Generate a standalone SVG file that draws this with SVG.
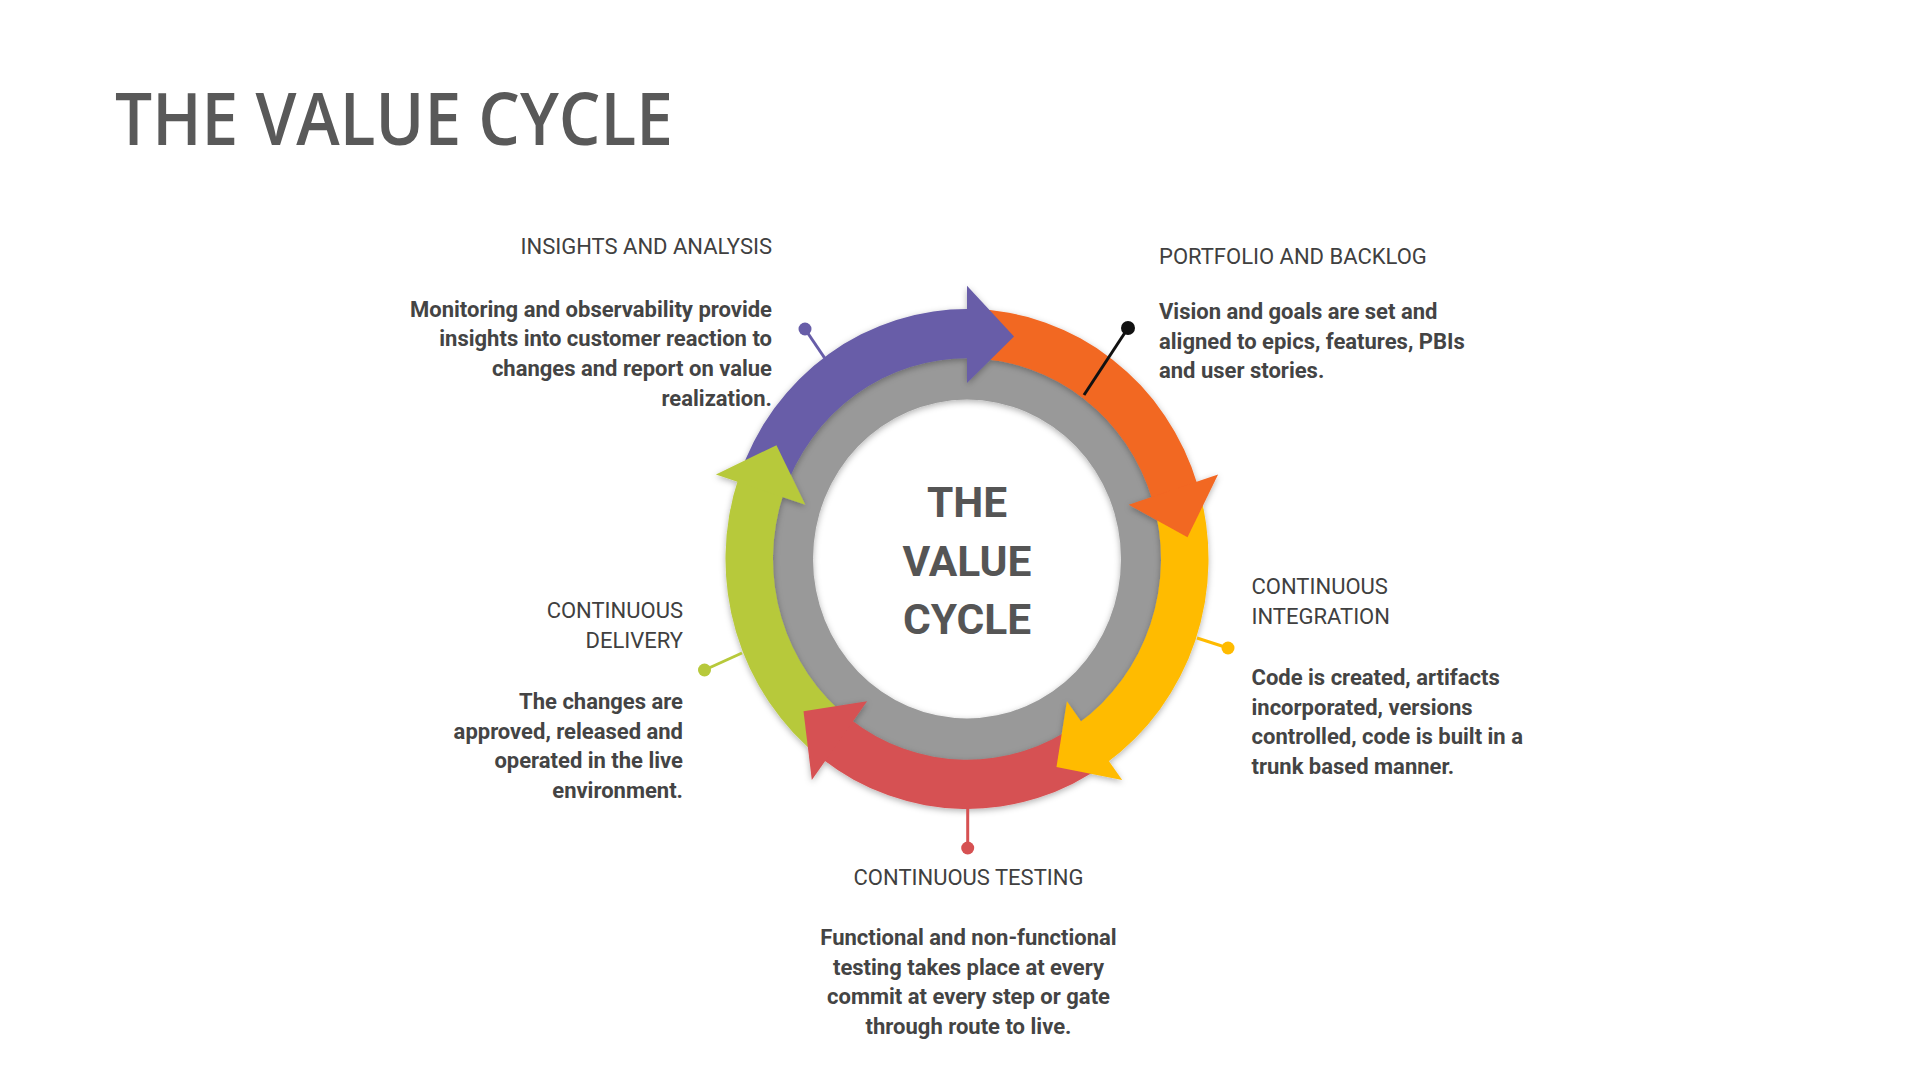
<svg xmlns="http://www.w3.org/2000/svg" width="1920" height="1080" viewBox="0 0 1920 1080">
<defs>
<style>
.title{font-family:"Open Sans","Noto Sans","Liberation Sans",sans-serif;font-weight:600;font-size:72px;fill:#595959}
.center{font-family:Roboto,"Liberation Sans",sans-serif;font-weight:700;font-size:42.5px;fill:#555555;text-anchor:middle}
.lbl{font-family:Roboto,"Liberation Sans",sans-serif;font-size:22px;fill:#404040}
.body{font-family:Roboto,"Liberation Sans",sans-serif;font-weight:700;font-size:22px;fill:#444444}
.end{text-anchor:end}
.mid{text-anchor:middle}
.pin{stroke-width:3;fill:none}
</style>
<filter id="sh" x="-20%" y="-20%" width="140%" height="140%">
<feDropShadow dx="0" dy="2" stdDeviation="3" flood-color="#000" flood-opacity="0.3"/>
</filter>
</defs>
<rect width="1920" height="1080" fill="#ffffff"/>
<text class="title" x="115" y="145" textLength="558" lengthAdjust="spacingAndGlyphs">THE VALUE CYCLE</text>

<g id="cycle" transform="translate(967 559) scale(1 1.035)">
<path id="ring" d="M0 -197 A197 197 0 1 1 0 197 A197 197 0 1 1 0 -197 Z M0 -154 A154 154 0 1 0 0 154 A154 154 0 1 0 0 -154 Z" fill="#999999" fill-rule="evenodd" filter="url(#sh)"/>
<g filter="url(#sh)">
<path fill="#F26724" d="M4.215 -241.463 A241.5 241.5 0 0 1 230.948 -70.608 L185.523 -56.720 A194 194 0 0 0 3.386 -193.970 Z"/>
<path fill="#FFBB00" d="M230.948 -70.608 A241.5 241.5 0 0 1 138.519 197.825 L111.274 158.915 A194 194 0 0 0 185.523 -56.720 Z"/>
<path fill="#D65152" d="M138.519 197.825 A241.5 241.5 0 0 1 -145.338 192.871 L-116.752 154.935 A194 194 0 0 0 111.274 158.915 Z"/>
<path fill="#B7C93B" d="M-145.338 192.871 A241.5 241.5 0 0 1 -228.343 -78.625 L-183.431 -63.160 A194 194 0 0 0 -116.752 154.935 Z"/>
<path fill="#675DA8" d="M-228.343 -78.625 A241.5 241.5 0 0 1 4.215 -241.463 L3.386 -193.970 A194 194 0 0 0 -183.431 -63.160 Z"/>
<polygon fill="#675DA8" points="0,-264 47,-215 0,-170"/>
<polygon fill="#F26724" points="251.079,-81.580 220.5,-21 161.680,-52.533"/>
<polygon fill="#FFBB00" points="155.175,213.580 89.482,200.980 99.923,137.533"/>
<polygon fill="#D65152" points="-155.175,213.580 -163.492,147.209 -99.923,137.533"/>
<polygon fill="#B7C93B" points="-251.079,-81.580 -190.526,-110 -161.680,-52.533"/>
</g>
</g>

<g id="center-label">
<text class="center" x="967" y="516.5">THE</text>
<text class="center" x="967" y="575.5">VALUE</text>
<text class="center" x="967" y="634">CYCLE</text>
</g>

<g id="connectors">
<line class="pin" x1="826" y1="360" x2="805" y2="329" stroke="#675DA8"/>
<circle cx="805" cy="329" r="6.5" fill="#675DA8"/>
<line class="pin" x1="1084" y1="395" x2="1128" y2="328" stroke="#111111" stroke-width="3.5"/>
<circle cx="1128" cy="328" r="7" fill="#111111"/>
<line class="pin" x1="1197" y1="638" x2="1228" y2="648" stroke="#FFBB00"/>
<circle cx="1228" cy="648" r="6.5" fill="#FFBB00"/>
<line class="pin" x1="967.7" y1="806" x2="967.7" y2="848" stroke="#D65152"/>
<circle cx="967.7" cy="848" r="6.5" fill="#D65152"/>
<line class="pin" x1="742" y1="653" x2="704.5" y2="670" stroke="#B7C93B"/>
<circle cx="704.5" cy="670" r="6.5" fill="#B7C93B"/>
</g>

<g id="insights">
<text class="lbl end" x="772" y="254">INSIGHTS AND ANALYSIS</text>
<text class="body end" x="772" y="316.7">Monitoring and observability provide</text>
<text class="body end" x="772" y="346.3">insights into customer reaction to</text>
<text class="body end" x="772" y="375.9">changes and report on value</text>
<text class="body end" x="772" y="405.5">realization.</text>
</g>

<g id="portfolio">
<text class="lbl" x="1159" y="264">PORTFOLIO AND BACKLOG</text>
<text class="body" x="1159" y="318.7">Vision and goals are set and</text>
<text class="body" x="1159" y="348.5">aligned to epics, features, PBIs</text>
<text class="body" x="1159" y="378.3">and user stories.</text>
</g>

<g id="integration">
<text class="lbl" x="1251.5" y="594">CONTINUOUS</text>
<text class="lbl" x="1251.5" y="624">INTEGRATION</text>
<text class="body" x="1251.5" y="685">Code is created, artifacts</text>
<text class="body" x="1251.5" y="714.6">incorporated, versions</text>
<text class="body" x="1251.5" y="744.2">controlled, code is built in a</text>
<text class="body" x="1251.5" y="773.8">trunk based manner.</text>
</g>

<g id="delivery">
<text class="lbl end" x="683" y="617.7">CONTINUOUS</text>
<text class="lbl end" x="683" y="647.5">DELIVERY</text>
<text class="body end" x="683" y="709">The changes are</text>
<text class="body end" x="683" y="738.5">approved, released and</text>
<text class="body end" x="683" y="768">operated in the live</text>
<text class="body end" x="683" y="797.5">environment.</text>
</g>

<g id="testing">
<text class="lbl mid" x="968.5" y="885">CONTINUOUS TESTING</text>
<text class="body mid" x="968.5" y="945">Functional and non-functional</text>
<text class="body mid" x="968.5" y="974.5">testing takes place at every</text>
<text class="body mid" x="968.5" y="1004">commit at every step or gate</text>
<text class="body mid" x="968.5" y="1033.5">through route to live.</text>
</g>
</svg>
